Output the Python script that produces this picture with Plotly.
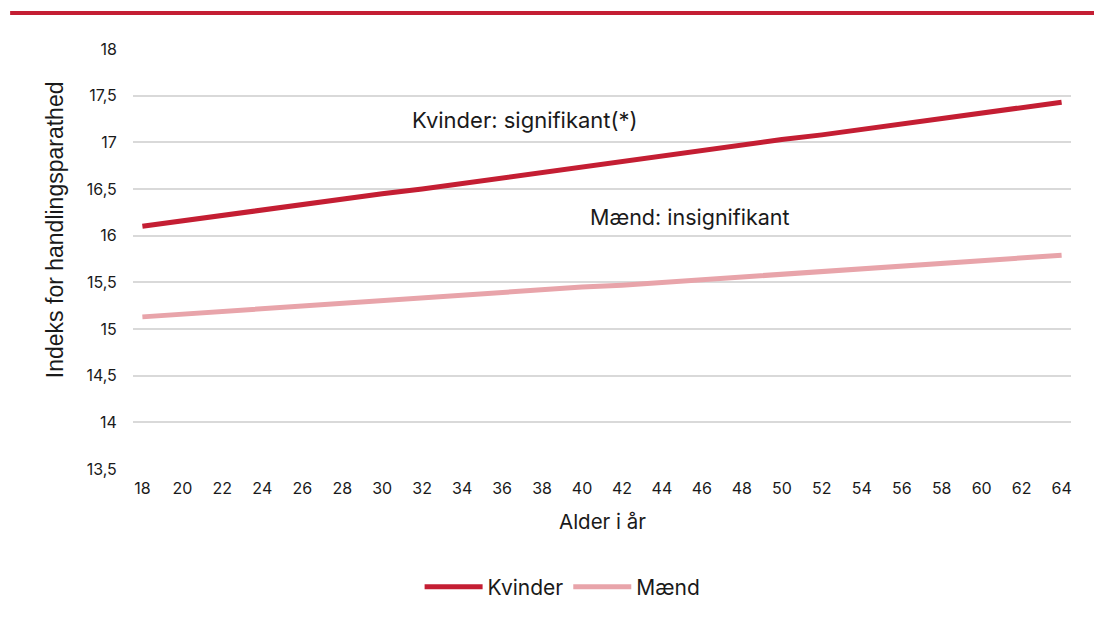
import plotly.graph_objects as go

alder = list(range(18, 65, 2))

kvinder = [16.10, 16.16, 16.22, 16.27, 16.33, 16.39, 16.45, 16.50, 16.56, 16.62, 16.68, 16.74,
           16.79, 16.85, 16.91, 16.97, 17.03, 17.08, 17.14, 17.20, 17.26, 17.31, 17.37, 17.43]

maend = [15.13, 15.16, 15.19, 15.22, 15.24, 15.27, 15.30, 15.33, 15.36, 15.39, 15.42, 15.45,
         15.47, 15.50, 15.53, 15.56, 15.59, 15.62, 15.65, 15.68, 15.70, 15.73, 15.76, 15.79]

y_ticks = [13.5, 14, 14.5, 15, 15.5, 16, 16.5, 17, 17.5, 18]

RED = "#C41E33"
PINK = "#E8A4AA"
FONT = "Inter, Roboto, sans-serif"
TEXT = "#1a1a1a"

fig = go.Figure()

fig.add_trace(go.Scatter(x=alder, y=kvinder, mode="lines", name="Kvinder",
                         line=dict(color=RED, width=5)))
fig.add_trace(go.Scatter(x=alder, y=maend, mode="lines", name="Mænd",
                         line=dict(color=PINK, width=5)))

# ── tekst i grafen ──
fig.add_annotation(x=37.15, y=17.24, text="Kvinder: signifikant(*)", showarrow=False,
                   font=dict(size=22, color=TEXT))
fig.add_annotation(x=45.4, y=16.2, text="Mænd: insignifikant", showarrow=False,
                   font=dict(size=21.5, color=TEXT))

# aksetitler
fig.add_annotation(xref="paper", yref="paper", x=0.5, y=-0.124, xanchor="center", yanchor="middle",
                   text="Alder i år", showarrow=False, font=dict(size=20.5, color=TEXT))
fig.add_annotation(xref="paper", yref="paper", x=-0.083, y=0.569, xanchor="center", yanchor="middle",
                   textangle=-90, text="Indeks for handlingsparathed", showarrow=False,
                   font=dict(family="Liberation Sans, Arial, sans-serif", size=23, color=TEXT))

# rød streg øverst
fig.add_shape(type="line", xref="paper", yref="paper", x0=-0.131, x1=1.04, y0=1.086, y1=1.086,
              line=dict(color=RED, width=4))

fig.update_layout(
    width=1102,
    height=625,
    separators=",.",
    paper_bgcolor="white",
    plot_bgcolor="white",
    font=dict(family=FONT, size=16, color=TEXT),
    margin=dict(l=125, r=39, t=41, b=164),
    showlegend=True,
    legend=dict(orientation="h", x=0.458, xanchor="center", y=-0.281, yanchor="middle",
                font=dict(size=21), itemwidth=58, traceorder="normal"),
    xaxis=dict(
        range=[17.53, 64.47],
        tickvals=alder,
        ticktext=[str(a) for a in alder],
        showgrid=False,
        zeroline=False,
        showline=False,
        ticks="outside", ticklen=5, tickcolor="white",
        tickfont=dict(size=16),
    ),
    yaxis=dict(
        range=[13.5, 18],
        tickvals=y_ticks,
        showgrid=True,
        gridcolor="#D9D9D9",
        gridwidth=1.5,
        zeroline=False,
        showline=False,
        ticks="outside", ticklen=12, tickcolor="white",
        tickfont=dict(size=16),
    ),
)

fig.write_html("out.html")
